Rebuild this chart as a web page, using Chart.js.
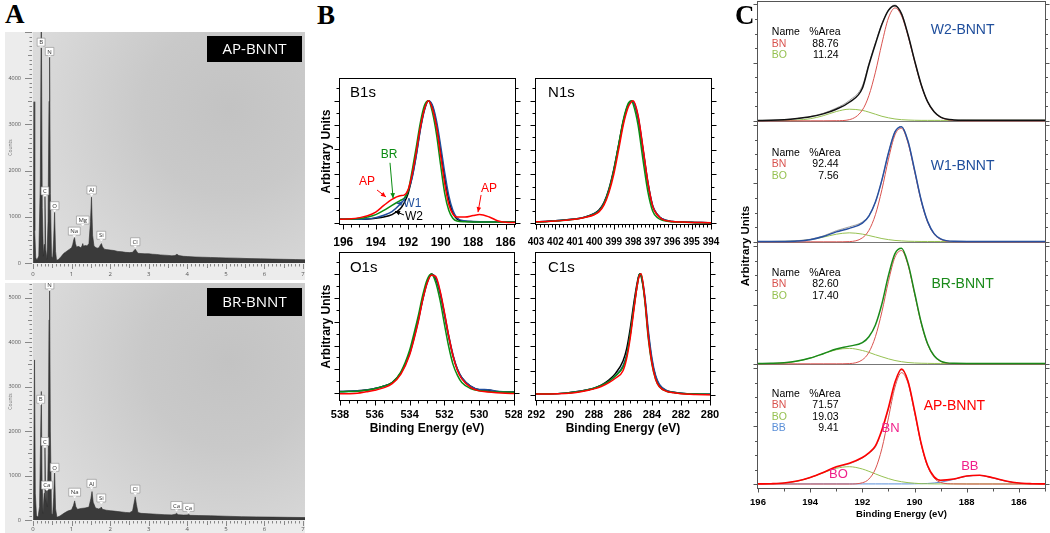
<!DOCTYPE html>
<html>
<head>
<meta charset="utf-8">
<script src="https://cdn.jsdelivr.net/npm/chart.js@4.4.1/dist/chart.umd.min.js"></script>
<style>
html,body{margin:0;padding:0;background:#fff;}
#fig{position:relative;width:1050px;height:533px;overflow:hidden;}
#fig canvas{position:absolute;}
.pl{position:absolute;font-family:"Liberation Serif","DejaVu Serif",serif;font-weight:bold;font-size:27px;line-height:27px;color:#000;}
#cy{position:absolute;left:685px;top:239px;width:120px;height:14px;line-height:14px;text-align:center;font-family:"Liberation Sans",Arial,sans-serif;font-weight:bold;font-size:11.5px;transform:rotate(-90deg);transform-origin:50% 50%;white-space:nowrap;}
</style>
</head>
<body>
<div id="fig">
  <canvas id="edsAP"></canvas>
  <canvas id="edsBR"></canvas>
  <canvas id="b1s"></canvas>
  <canvas id="n1s"></canvas>
  <canvas id="o1s"></canvas>
  <canvas id="c1s"></canvas>
  <canvas id="cW2"></canvas>
  <canvas id="cW1"></canvas>
  <canvas id="cBR"></canvas>
  <canvas id="cAP"></canvas>
  <div class="pl" style="left:5px;top:1px">A</div>
  <div class="pl" style="left:317px;top:2px">B</div>
  <div class="pl" style="left:735px;top:2px">C</div>
  <div id="cy">Arbitrary Units</div>
</div>
<script>
// ---------------- DATA ----------------
// Panel A : EDS spectra (keV, counts)
const edsKeVAP = [0,0.01,0.026,0.045,0.07,0.1,0.15,0.19,0.215,0.24,0.27,0.29,0.31,0.33,0.36,0.39,0.415,0.43,0.45,0.48,0.51,0.535,0.56,0.585,0.61,0.65,0.7,0.75,0.8,0.85,0.9,0.95,1.0,1.03,1.055,1.077,1.1,1.13,1.17,1.2,1.24,1.27,1.29,1.31,1.35,1.4,1.45,1.49,1.516,1.545,1.58,1.62,1.66,1.71,1.74,1.774,1.8,1.85,1.9,2.0,2.1,2.2,2.3,2.4,2.5,2.58,2.62,2.65,2.68,2.72,2.8,2.9,3.0,3.1,3.2,3.3,3.4,3.5,3.6,3.68,3.73,3.78,3.9,4.0,4.2,4.4,4.6,4.8,5.0,5.3,5.6,5.9,6.2,6.5,6.8,7.05];
const edsCountsAP = [0,600,3490,700,120,60,150,1800,5600,1200,150,400,1460,300,80,900,3500,4525,1500,150,100,500,1095,250,60,70,110,160,210,240,270,300,330,400,500,550,420,340,360,350,330,370,420,360,380,370,420,900,1425,600,370,340,320,330,380,420,350,300,290,280,270,250,245,230,225,230,270,300,260,210,205,200,200,190,185,175,170,165,155,160,190,160,145,140,130,125,120,115,110,105,95,90,85,80,75,70];
const edsKeVBR = [0,0.015,0.04,0.06,0.09,0.13,0.17,0.2,0.216,0.235,0.26,0.29,0.31,0.325,0.34,0.352,0.37,0.395,0.415,0.43,0.45,0.48,0.51,0.535,0.56,0.585,0.62,0.7,0.8,0.9,1.0,1.05,1.08,1.11,1.15,1.25,1.35,1.45,1.5,1.53,1.56,1.62,1.7,1.74,1.77,1.8,1.9,2.0,2.1,2.2,2.3,2.4,2.5,2.58,2.62,2.65,2.68,2.72,2.8,3.0,3.2,3.4,3.6,3.69,3.72,3.76,3.9,4.0,4.03,4.07,4.3,4.6,5.0,5.4,5.8,6.2,6.6,7.05];
const edsCountsBR = [0,500,3600,600,100,60,300,2000,2890,900,150,600,1620,600,400,700,300,1500,4500,5300,2000,150,120,500,1130,250,60,90,150,200,230,330,430,300,240,260,270,290,480,640,400,270,250,260,290,240,220,210,200,190,180,170,165,200,380,520,350,170,150,140,130,120,115,130,150,120,110,115,130,105,100,95,85,75,70,65,60,55];
const edsXTicks = [0,1,2,3,4,5,6,7];
const edsYTicksAP = [0,1000,2000,3000,4000];
const edsYTicksBR = [0,1000,2000,3000,4000,5000];
const peakNamesAP = ['B','N','C','O','Na','Mg','Al','Si','Cl'];
const peakKeVAP   = [0.21,0.43,0.31,0.56,1.07,1.29,1.52,1.77,2.65];
const peakTopAP   = [4650,4450,1430,1110,560,800,1450,470,330];
const peakNamesBR = ['N','B','C','Ca','O','Na','Al','Si','Cl','Ca','Ca'];
const peakKeVBR   = [0.43,0.2,0.31,0.36,0.56,1.08,1.52,1.77,2.65,3.72,4.03];
const peakTopBR   = [5150,2580,1630,650,1050,490,690,360,560,190,150];

// Panel B : XPS core levels (normalised intensity)
const eB1s = [196.2,196,195.5,195,194.5,194,193.5,193,192.5,192.25,192,191.75,191.5,191.25,191,190.75,190.5,190.25,190,189.75,189.5,189.25,189,188.5,188,187.6,187,186.5,186,185.4];
const b1sAP = [0.026,0.026,0.03,0.04,0.055,0.085,0.14,0.19,0.22,0.225,0.27,0.4,0.58,0.78,0.93,1.0,0.93,0.78,0.55,0.32,0.15,0.07,0.045,0.045,0.057,0.065,0.045,0.015,0.002,0.0];
const b1sBR = [0.026,0.026,0.027,0.032,0.045,0.065,0.1,0.14,0.18,0.2,0.26,0.43,0.62,0.82,0.96,1.0,0.9,0.72,0.47,0.24,0.1,0.035,0.012,0.006,0.005,0.005,0.005,0.005,0.005,0.005];
const b1sW1 = [0.026,0.026,0.026,0.027,0.03,0.04,0.06,0.09,0.15,0.19,0.26,0.37,0.55,0.76,0.92,1.0,0.96,0.83,0.63,0.41,0.22,0.1,0.04,0.012,0.008,0.007,0.007,0.007,0.007,0.007];
const b1sW2 = [0.026,0.026,0.026,0.026,0.028,0.035,0.045,0.065,0.11,0.16,0.24,0.38,0.56,0.77,0.93,1.0,0.95,0.8,0.59,0.37,0.19,0.08,0.03,0.01,0.007,0.006,0.006,0.006,0.006,0.006];

const eN1s = [403,402.5,402,401.5,401,400.5,400,399.75,399.5,399.25,399,398.75,398.5,398.25,398.1,398,397.75,397.5,397.25,397,396.75,396.5,396,395.5,395,394.5,394];
const n1sW2 = [0.012,0.015,0.02,0.028,0.035,0.05,0.08,0.11,0.17,0.28,0.44,0.64,0.84,0.97,0.995,0.99,0.86,0.6,0.33,0.14,0.07,0.035,0.015,0.01,0.008,0.006,0.005];
const n1sW1 = [0.012,0.015,0.02,0.027,0.035,0.05,0.078,0.105,0.165,0.27,0.43,0.63,0.83,0.965,0.995,0.99,0.87,0.61,0.34,0.145,0.07,0.035,0.015,0.01,0.008,0.006,0.005];
const n1sBR = [0.01,0.013,0.018,0.025,0.033,0.048,0.075,0.1,0.16,0.27,0.43,0.64,0.85,0.98,1.0,0.97,0.8,0.52,0.26,0.1,0.045,0.025,0.012,0.008,0.006,0.005,0.004];
const n1sAP = [0.012,0.014,0.018,0.025,0.033,0.048,0.07,0.095,0.15,0.25,0.4,0.6,0.81,0.95,0.99,1.0,0.88,0.62,0.34,0.14,0.065,0.032,0.014,0.01,0.007,0.006,0.005];

const eO1s = [538,537.5,537,536.5,536,535.5,535,534.5,534,533.75,533.5,533.25,533,532.75,532.5,532.25,532,531.75,531.5,531.25,531,530.5,530,529.5,529,528.5,528];
const o1sW2 = [0.015,0.017,0.02,0.028,0.04,0.06,0.09,0.17,0.34,0.47,0.62,0.79,0.93,1.0,0.96,0.84,0.66,0.47,0.31,0.2,0.13,0.06,0.03,0.027,0.015,0.012,0.01];
const o1sW1 = [0.014,0.016,0.02,0.027,0.04,0.058,0.09,0.17,0.33,0.46,0.61,0.78,0.92,0.995,0.97,0.85,0.67,0.48,0.32,0.2,0.13,0.06,0.032,0.03,0.016,0.012,0.01];
const o1sBR = [0.012,0.014,0.017,0.025,0.037,0.058,0.09,0.18,0.36,0.5,0.65,0.82,0.95,1.0,0.93,0.78,0.58,0.39,0.24,0.15,0.09,0.04,0.02,0.015,0.01,0.01,0.008];
const o1sAP = [-0.005,-0.004,0.0,0.012,0.025,0.045,0.08,0.16,0.32,0.45,0.6,0.78,0.92,0.99,0.98,0.86,0.68,0.48,0.31,0.19,0.12,0.05,0.02,0.01,0.004,0.0,-0.002];

const eC1s = [292,291,290,289,288,287.5,287,286.5,286,285.75,285.5,285.25,285,284.85,284.75,284.5,284.25,284,283.75,283.5,283,282.5,282,281,280];
const c1sW2 = [0.01,0.01,0.015,0.03,0.055,0.08,0.12,0.18,0.28,0.38,0.55,0.76,0.94,1.0,0.98,0.8,0.5,0.28,0.15,0.08,0.035,0.022,0.015,0.008,0.005];
const c1sW1 = [0.01,0.01,0.015,0.03,0.055,0.078,0.11,0.16,0.24,0.33,0.5,0.72,0.92,1.0,0.99,0.82,0.53,0.3,0.16,0.09,0.037,0.023,0.015,0.008,0.005];
const c1sBR = [0.01,0.01,0.015,0.028,0.055,0.078,0.11,0.16,0.23,0.32,0.5,0.72,0.92,1.0,0.99,0.78,0.46,0.25,0.13,0.07,0.03,0.02,0.012,0.007,0.004];
const c1sAP = [0.008,0.008,0.012,0.025,0.05,0.07,0.1,0.14,0.2,0.3,0.47,0.7,0.92,0.99,1.0,0.8,0.48,0.26,0.13,0.07,0.03,0.018,0.01,0.004,0.002];

const ticksB1s = [196,194,192,190,188,186];
const ticksN1s = [403,402,401,400,399,398,397,396,395,394];
const ticksO1s = [538,536,534,532,530,528];
const ticksC1s = [292,290,288,286,284,282,280];

// Panel C : B1s peak fits
const eC = [196,195.5,195,194.5,194,193.5,193,192.5,192,191.75,191.5,191.25,191,190.75,190.5,190.25,190,189.75,189.5,189.25,189,188.5,188,187.5,187,186.5,186,185.5,185];
const w2Data = [0.003,0.005,0.01,0.02,0.035,0.06,0.1,0.16,0.28,0.48,0.66,0.83,0.95,0.99,0.92,0.74,0.52,0.315,0.165,0.078,0.032,0.008,0.005,0.004,0.004,0.004,0.004,0.004,0.004];
const w2Env  = [0.003,0.005,0.01,0.02,0.037,0.065,0.11,0.175,0.3,0.49,0.67,0.835,0.955,0.995,0.925,0.74,0.52,0.315,0.165,0.078,0.032,0.008,0.005,0.004,0.004,0.004,0.004,0.004,0.004];
const w2BN   = [0,0,0,0,0,0,0.001,0.01,0.093,0.217,0.418,0.667,0.884,0.97,0.903,0.729,0.511,0.31,0.163,0.075,0.03,0.003,0,0,0,0,0,0,0];
const w2BO   = [0.003,0.003,0.004,0.007,0.018,0.044,0.08,0.1,0.09,0.075,0.057,0.039,0.026,0.016,0.01,0.007,0.005,0.004,0.004,0.004,0.004,0.004,0.004,0.004,0.004,0.004,0.004,0.004,0.004];
const w1Data = [0.002,0.002,0.003,0.007,0.018,0.045,0.085,0.115,0.16,0.22,0.34,0.53,0.76,0.94,0.985,0.86,0.615,0.36,0.175,0.07,0.025,0.004,0.003,0.003,0.003,0.003,0.003,0.003,0.003];
const w1Env  = [0.002,0.003,0.005,0.01,0.022,0.05,0.095,0.128,0.17,0.225,0.34,0.53,0.76,0.94,0.985,0.86,0.615,0.36,0.175,0.07,0.025,0.004,0.003,0.003,0.003,0.003,0.003,0.003,0.003];
const w1BN   = [0,0,0,0,0,0,0,0.002,0.034,0.098,0.232,0.447,0.707,0.915,0.971,0.845,0.603,0.352,0.169,0.066,0.021,0.001,0,0,0,0,0,0,0];
const w1BO   = [0.003,0.003,0.004,0.008,0.019,0.04,0.065,0.077,0.066,0.054,0.041,0.028,0.019,0.012,0.008,0.005,0.004,0.003,0.003,0.003,0.003,0.003,0.003,0.003,0.003,0.003,0.003,0.003,0.003];
const brData = [0.002,0.004,0.009,0.023,0.049,0.086,0.125,0.15,0.18,0.23,0.33,0.51,0.75,0.935,0.98,0.85,0.605,0.355,0.17,0.068,0.023,0.004,0.003,0.003,0.003,0.003,0.003,0.003,0.003];
const brBN   = [0,0,0,0,0,0,0,0.002,0.034,0.097,0.23,0.442,0.7,0.905,0.961,0.837,0.596,0.348,0.167,0.066,0.021,0.001,0,0,0,0,0,0,0];
const brBO   = [0.002,0.003,0.008,0.022,0.048,0.085,0.119,0.131,0.113,0.097,0.077,0.059,0.042,0.028,0.018,0.011,0.007,0.005,0.004,0.003,0.003,0.003,0.003,0.003,0.003,0.003,0.003,0.003,0.003];
const apData = [0.001,0.003,0.009,0.026,0.057,0.1,0.15,0.18,0.23,0.27,0.33,0.47,0.66,0.88,0.995,0.89,0.635,0.355,0.16,0.063,0.033,0.043,0.07,0.076,0.054,0.026,0.009,0.003,0.001];
const apEnv  = [0.001,0.003,0.009,0.026,0.057,0.1,0.145,0.175,0.225,0.265,0.32,0.46,0.65,0.87,0.985,0.89,0.63,0.352,0.158,0.062,0.032,0.042,0.069,0.075,0.053,0.025,0.008,0.002,0.001];
const apBN   = [0,0,0,0,0,0,0,0,0.011,0.043,0.13,0.308,0.573,0.839,0.964,0.872,0.619,0.346,0.152,0.052,0.014,0.001,0,0,0,0,0,0,0];
const apBO   = [0.001,0.002,0.008,0.024,0.055,0.097,0.136,0.15,0.13,0.11,0.088,0.066,0.047,0.031,0.02,0.012,0.007,0.003,0.002,0.001,0.001,0.001,0.001,0.001,0.001,0.001,0.001,0.001,0.001];
const apBB   = [0.001,0.001,0.001,0.001,0.001,0.001,0.001,0.001,0.001,0.001,0.001,0.001,0.001,0.001,0.001,0.001,0.002,0.003,0.005,0.009,0.016,0.04,0.068,0.074,0.052,0.024,0.007,0.002,0.001];
const ticksC = [196,194,192,190,188,186];
const fitW2 = ['BN','BO'], pctW2 = ['88.76','11.24'];
const fitW1 = ['BN','BO'], pctW1 = ['92.44','7.56'];
const fitBR = ['BN','BO'], pctBR = ['82.60','17.40'];
const fitAP = ['BN','BO','BB'], pctAP = ['71.57','19.03','9.41'];
const sampleNames = ['W2-BNNT','W1-BNNT','BR-BNNT','AP-BNNT'];

// ---------------- HELPERS ----------------
const FAM = '"Liberation Sans", Arial, sans-serif';
Chart.defaults.font.family = FAM;
Chart.defaults.animation = false;
const pts = (xs, ys) => xs.map((x, i) => ({x: x, y: ys[i]}));
const zero = s => { s.paddingLeft = 0; s.paddingRight = 0; s.paddingTop = 0; s.paddingBottom = 0; };
const hp = v => Math.round(v) + 0.5;

function place(id, box, m) {
  const c = document.getElementById(id);
  const w = box[2] - box[0] + m.l + m.r, h = box[3] - box[1] + m.t + m.b;
  c.width = w; c.height = h;
  c.style.left = (box[0] - m.l) + 'px'; c.style.top = (box[1] - m.t) + 'px';
  c.style.width = w + 'px'; c.style.height = h + 'px';
  return c;
}

const notesPlugin = {
  id: 'notes',
  afterDatasetsDraw(chart, args, opts) {
    const items = (opts && opts.items) || [];
    if (!items.length) return;
    const ctx = chart.ctx, xs = chart.scales.x, ys = chart.scales.y;
    ctx.save();
    for (const it of items) {
      if (it.t === 'arrow') {
        const x1 = xs.getPixelForValue(it.x1), y1 = ys.getPixelForValue(it.y1);
        const x2 = xs.getPixelForValue(it.x2), y2 = ys.getPixelForValue(it.y2);
        ctx.strokeStyle = it.color; ctx.fillStyle = it.color; ctx.lineWidth = 1;
        ctx.beginPath(); ctx.moveTo(x1, y1); ctx.lineTo(x2, y2); ctx.stroke();
        const an = Math.atan2(y2 - y1, x2 - x1), L = 5, W = 2.3;
        ctx.beginPath(); ctx.moveTo(x2, y2);
        ctx.lineTo(x2 - L * Math.cos(an) + W * Math.sin(an), y2 - L * Math.sin(an) - W * Math.cos(an));
        ctx.lineTo(x2 - L * Math.cos(an) - W * Math.sin(an), y2 - L * Math.sin(an) + W * Math.cos(an));
        ctx.closePath(); ctx.fill();
      } else {
        const x = xs.getPixelForValue(it.x) + (it.dx || 0), y = ys.getPixelForValue(it.y) + (it.dy || 0);
        ctx.font = it.font; ctx.fillStyle = it.color; ctx.textAlign = it.align || 'left'; ctx.textBaseline = 'middle';
        ctx.fillText(it.text, x, y);
      }
    }
    ctx.restore();
  }
};

const framePlugin = {
  id: 'frame',
  beforeDatasetsDraw(chart, args, o) {
    if (!o || !o.sep) return;
    const ctx = chart.ctx, a = chart.chartArea;
    ctx.save(); ctx.strokeStyle = o.sep; ctx.lineWidth = 1;
    ctx.beginPath(); ctx.moveTo(a.left, hp(a.bottom) - 1); ctx.lineTo(a.right, hp(a.bottom) - 1); ctx.stroke();
    ctx.restore();
  },
  afterDatasetsDraw(chart, args, o) {
    if (!o || !o.sides) return;
    const ctx = chart.ctx, a = chart.chartArea, xs = chart.scales.x, ys = chart.scales.y;
    ctx.save(); ctx.strokeStyle = o.color; ctx.lineWidth = o.width;
    const L = hp(a.left) - 1, R = hp(a.right), T = hp(a.top), B = hp(a.bottom) - 1;
    ctx.beginPath();
    if (o.sides.includes('l')) { ctx.moveTo(L, T - 0.5); ctx.lineTo(L, B + 0.5); }
    if (o.sides.includes('r')) { ctx.moveTo(R, T - 0.5); ctx.lineTo(R, B + 0.5); }
    if (o.sides.includes('t')) { ctx.moveTo(L - 0.5, T); ctx.lineTo(R + 0.5, T); }
    if (o.sides.includes('b')) { ctx.moveTo(L - 0.5, B); ctx.lineTo(R + 0.5, B); }
    if (o.xMinor) {
      const lo = Math.min(xs.min, xs.max), hi = Math.max(xs.min, xs.max);
      for (let n = Math.ceil(lo / o.xMinor - 1e-6); n * o.xMinor <= hi + 1e-6; n++) {
        const v = n * o.xMinor, r = v / o.xMajor, maj = Math.abs(r - Math.round(r)) < 1e-6;
        const px = hp(xs.getPixelForValue(v));
        ctx.moveTo(px, B); ctx.lineTo(px, B + (maj ? o.xMajLen : o.xMinLen));
      }
    }
    if (o.yMinor) {
      for (let n = Math.ceil(ys.min / o.yMinor - 1e-6); n * o.yMinor <= ys.max + 1e-6; n++) {
        const v = n * o.yMinor, r = v / o.yMajor, maj = Math.abs(r - Math.round(r)) < 1e-6;
        const py = hp(ys.getPixelForValue(v)), len = maj ? o.yMajLen : o.yMinLen;
        ctx.moveTo(L, py); ctx.lineTo(L - len, py);
        ctx.moveTo(R, py); ctx.lineTo(R + len, py);
      }
    }
    ctx.stroke(); ctx.restore();
  }
};

const edsPlugin = {
  id: 'eds',
  beforeDraw(chart, args, o) {
    if (!o || !o.on) return;
    const ctx = chart.ctx, a = chart.chartArea;
    ctx.save();
    ctx.fillStyle = '#ececec'; ctx.fillRect(0, 0, chart.width, chart.height);
    const w = a.right - a.left, h = a.bottom - a.top;
    const cx = a.left + 0.72 * w, cy = a.top + 0.33 * h, R = 1.05 * w;
    const g = ctx.createRadialGradient(cx, cy, 0, cx, cy, R);
    g.addColorStop(0, '#c3c3c3'); g.addColorStop(0.3, '#c9c9c9'); g.addColorStop(0.62, '#d7d7d7'); g.addColorStop(1, '#e7e7e7');
    ctx.fillStyle = g; ctx.fillRect(a.left, a.top, w, h);
    ctx.restore();
  },
  afterDatasetsDraw(chart, args, o) {
    if (!o || !o.on) return;
    const ctx = chart.ctx, a = chart.chartArea, xs = chart.scales.x, ys = chart.scales.y;
    ctx.save();
    ctx.strokeStyle = '#6f6f6f'; ctx.lineWidth = 0.8; ctx.beginPath();
    for (let n = 0; n <= 70; n++) {
      const px = hp(xs.getPixelForValue(n / 10));
      const len = n % 10 === 0 ? 5 : (n % 5 === 0 ? 4 : 2.5);
      ctx.moveTo(px, a.bottom + 1); ctx.lineTo(px, a.bottom + 1 + len);
    }
    for (let c = 0; c <= ys.max; c += 100) {
      const py = hp(ys.getPixelForValue(c));
      const len = c % 1000 === 0 ? 7 : (c % 500 === 0 ? 4 : 2.5);
      ctx.moveTo(a.left - 1 - len, py); ctx.lineTo(a.left - 1, py);
    }
    ctx.stroke();
    ctx.font = '6px "Open Sans", sans-serif'; ctx.textAlign = 'center'; ctx.textBaseline = 'middle';
    o.names.forEach((nm, i) => {
      const px = xs.getPixelForValue(o.keV[i]), py = ys.getPixelForValue(o.tops[i]);
      const w = ctx.measureText(nm).width + 4, h = 8, bx = px - w / 2, by = py - 2 - h;
      ctx.fillStyle = '#fff'; ctx.strokeStyle = '#8a8a8a'; ctx.lineWidth = 0.6;
      ctx.beginPath(); ctx.rect(bx, by, w, h); ctx.fill(); ctx.stroke();
      ctx.beginPath(); ctx.moveTo(px - 1.8, py - 2); ctx.lineTo(px, py); ctx.lineTo(px + 1.8, py - 2); ctx.closePath(); ctx.fill();
      ctx.fillStyle = '#333'; ctx.fillText(nm, px, by + h / 2 + 0.5);
    });
    const bw = 95, bh = o.boxH, bx = a.right - 3 - bw, by = a.top + o.boxTop;
    ctx.fillStyle = '#000'; ctx.fillRect(bx, by, bw, bh);
    ctx.fillStyle = '#fff'; ctx.font = '15px "Open Sans", sans-serif';
    ctx.fillText(o.sample, bx + bw / 2, by + bh / 2 + 1);
    ctx.restore();
  }
};
Chart.register(notesPlugin, framePlugin, edsPlugin);

function edsChart(id, box, m, yMax, yTicks, E, C, names, keV, tops, sample, boxTop, boxH, xPad) {
  const c = place(id, box, m);
  return new Chart(c, {
    type: 'line',
    data: { datasets: [{ data: pts(E, C), borderColor: '#2e2e2e', backgroundColor: '#3a3a3a', borderWidth: 0.6, pointRadius: 0, fill: 'origin', tension: 0 }] },
    options: {
      responsive: false, animation: false, events: [],
      layout: { padding: { left: 0, top: m.t, right: m.r, bottom: 0 } },
      plugins: { legend: { display: false }, tooltip: { enabled: false },
        eds: { on: true, names: names, keV: keV, tops: tops, sample: sample, boxTop: boxTop, boxH: boxH } },
      scales: {
        x: { type: 'linear', min: 0, max: 7.05,
          afterBuildTicks: s => { s.ticks = edsXTicks.map(v => ({value: v})); },
          ticks: { font: { size: 6, family: '"Open Sans", sans-serif' }, color: '#555', padding: xPad, maxRotation: 0, autoSkip: false, callback: v => String(v) },
          grid: { display: false, drawTicks: false }, border: { display: false },
          afterFit: s => { zero(s); s.height = m.b; } },
        y: { type: 'linear', min: 0, max: yMax,
          afterBuildTicks: s => { s.ticks = yTicks.map(v => ({value: v})); },
          ticks: { font: { size: 5.5, family: '"Open Sans", sans-serif' }, color: '#555', padding: 12, autoSkip: false, callback: v => String(v) },
          grid: { display: false, drawTicks: false }, border: { display: false },
          title: { display: true, text: 'Counts', font: { size: 5, family: '"Open Sans", sans-serif' }, color: '#777', padding: { top: 3, bottom: 0 } },
          afterFit: s => { zero(s); s.width = m.l; } }
      }
    }
  });
}

// series listed bottom-to-top; Chart.js paints the first dataset on top, so reverse
function xpsChart(id, box, m, xr, yr, energies, series, o) {
  const c = place(id, box, m);
  return new Chart(c, {
    type: 'line',
    data: { datasets: series.slice().reverse().map(s => ({ data: pts(energies, s.v), borderColor: s.c, borderWidth: s.w, pointRadius: 0, fill: false, cubicInterpolationMode: 'monotone' })) },
    options: {
      responsive: false, animation: false, events: [],
      layout: { padding: { left: 0, top: m.t, right: m.r, bottom: 0 } },
      plugins: { legend: { display: false }, tooltip: { enabled: false }, notes: { items: o.notes || [] }, frame: o.frame },
      scales: {
        x: { type: 'linear', reverse: true, min: xr[0], max: xr[1],
          afterBuildTicks: s => { s.ticks = (o.xTicks || []).map(v => ({value: v})); },
          ticks: { display: !!o.xTicks, font: o.xFont, color: '#000', padding: o.xPad || 0, maxRotation: 0, autoSkip: false, callback: v => String(v) },
          grid: { display: false, drawTicks: false }, border: { display: false },
          title: o.xTitle ? { display: true, text: o.xTitle, font: o.xTitleFont, color: '#000', padding: { top: 0, bottom: o.xTitlePad } } : { display: false },
          afterFit: s => { zero(s); s.height = m.b; } },
        y: { type: 'linear', min: yr[0], max: yr[1],
          ticks: { display: false }, grid: { display: false, drawTicks: false }, border: { display: false },
          title: o.yTitle ? { display: true, text: o.yTitle, font: { size: 12, weight: 'bold', family: FAM }, color: '#000', padding: { top: 9, bottom: 0 } } : { display: false },
          afterFit: s => { zero(s); s.width = m.l; } }
      }
    }
  });
}

// ---------------- PANEL A ----------------
edsChart('edsAP', [33, 32, 305, 263], {l: 28, t: 0, r: 0, b: 17}, 5000, edsYTicksAP,
  edsKeVAP, edsCountsAP, peakNamesAP, peakKeVAP, peakTopAP, 'AP-BNNT', 4, 26, 8);
edsChart('edsBR', [33, 283, 305, 520], {l: 28, t: 0, r: 0, b: 13}, 5330, edsYTicksBR,
  edsKeVBR, edsCountsBR, peakNamesBR, peakKeVBR, peakTopBR, 'BR-BNNT', 5, 28, 6);

// ---------------- PANEL B ----------------
const colW2 = '#000000', colW1 = '#1f4e9c', colBR = '#0b8c12', colAP = '#ff0000';
const TF12 = { size: 12, weight: 'bold', family: FAM };
const TF11 = { size: 11, weight: 'bold', family: FAM };
const TF10 = { size: 10, weight: 'bold', family: FAM };
const nf = s => s + 'px ' + FAM;
const frameB = (xMinor, xMajor) => ({ sides: 'lrtb', color: '#000', width: 1, xMinor: xMinor, xMajor: xMajor, xMajLen: 5, xMinLen: 3, yMinor: 0.1, yMajor: 0.2, yMajLen: 5, yMinLen: 3 });
const seriesB = (w2, w1, br, ap) => [
  { v: w2, c: colW2, w: 1.5 }, { v: w1, c: colW1, w: 1.5 }, { v: br, c: colBR, w: 1.5 }, { v: ap, c: colAP, w: 1.5 }];

xpsChart('b1s', [340, 78, 515, 225], {l: 30, t: 8, r: 8, b: 25}, [185.42, 196.2], [-0.0205, 1.186], eB1s,
  seriesB(b1sW2, b1sW1, b1sBR, b1sAP),
  { xTicks: ticksB1s, xFont: TF12, xPad: 10, yTitle: 'Arbitrary Units', frame: frameB(0.5, 2),
    notes: [
      { x: 195.58, y: 1.063, text: 'B1s', color: '#000', font: nf(15) },
      { x: 193.18, y: 0.554, text: 'BR', color: colBR, font: nf(12), align: 'center' },
      { t: 'arrow', x1: 193.12, y1: 0.49, x2: 192.93, y2: 0.2, color: colBR },
      { x: 194.54, y: 0.333, text: 'AP', color: colAP, font: nf(12), align: 'center' },
      { t: 'arrow', x1: 193.92, y1: 0.267, x2: 193.37, y2: 0.21, color: colAP },
      { x: 192.3, y: 0.152, text: 'W1', color: colW1, font: nf(12) },
      { t: 'arrow', x1: 192.36, y1: 0.155, x2: 192.7, y2: 0.158, color: colW1 },
      { x: 192.2, y: 0.05, text: 'W2', color: '#000', font: nf(12) },
      { t: 'arrow', x1: 192.26, y1: 0.062, x2: 192.81, y2: 0.092, color: '#000' },
      { x: 187.02, y: 0.275, text: 'AP', color: colAP, font: nf(12), align: 'center' },
      { t: 'arrow', x1: 187.51, y1: 0.226, x2: 187.7, y2: 0.085, color: colAP }
    ] });

xpsChart('n1s', [536, 78, 711, 225], {l: 8, t: 8, r: 10, b: 25}, [394, 403], [-0.014, 1.185], eN1s,
  seriesB(n1sW2, n1sW1, n1sBR, n1sAP),
  { xTicks: ticksN1s, xFont: TF10, xPad: 11, frame: frameB(0.2, 1),
    notes: [{ x: 402.38, y: 1.063, text: 'N1s', color: '#000', font: nf(15) }] });

xpsChart('o1s', [340, 252, 514, 401], {l: 30, t: 0, r: 8, b: 40}, [528, 538], [-0.065, 1.184], eO1s,
  seriesB(o1sW2, o1sW1, o1sBR, o1sAP),
  { xTicks: ticksO1s, xFont: TF11, xPad: 7, xTitle: 'Binding Energy (eV)', xTitleFont: TF12, xTitlePad: 5,
    yTitle: 'Arbitrary Units', frame: frameB(0.5, 2),
    notes: [{ x: 537.43, y: 1.05, text: 'O1s', color: '#000', font: nf(15) }] });

xpsChart('c1s', [536, 252, 710, 401], {l: 8, t: 0, r: 12, b: 40}, [280, 292], [-0.05, 1.18], eC1s,
  seriesB(c1sW2, c1sW1, c1sBR, c1sAP),
  { xTicks: ticksC1s, xFont: TF11, xPad: 7, xTitle: 'Binding Energy (eV)', xTitleFont: TF12, xTitlePad: 5,
    frame: frameB(0.5, 2),
    notes: [{ x: 291.17, y: 1.05, text: 'C1s', color: '#000', font: nf(15) }] });

// ---------------- PANEL C ----------------
const colBN = '#d9534f', colBO = '#96c152', colBB = '#5a8fd8', colEnv = '#a0a0a0', colSample = '#1f4e9c', colPink = '#f0208a';
const compColor = n => n === 'BN' ? colBN : (n === 'BO' ? colBO : colBB);
const LF = nf(10.5), SF = nf(14);
function legendItems(names, pcts, vName, title, tColor, tE, tV) {
  const items = [
    { x: 195.47, y: vName, text: 'Name', color: '#000', font: LF },
    { x: 194.04, y: vName, text: '%Area', color: '#000', font: LF }];
  names.forEach((n, i) => {
    items.push({ x: 195.47, y: vName, dy: 11.5 * (i + 1), text: n, color: compColor(n), font: LF });
    items.push({ x: 192.91, y: vName, dy: 11.5 * (i + 1), text: pcts[i], color: '#000', font: LF, align: 'right' });
  });
  items.push({ x: tE, y: tV, text: title, color: tColor, font: SF });
  return items;
}
const frameC = (sides, sep, withX) => ({ sides: sides, sep: sep, color: '#555', width: 1,
  xMinor: withX ? 1 : 0, xMajor: 2, xMajLen: 4, xMinLen: 3,
  yMinor: 0.125, yMajor: 0.5, yMajLen: 4, yMinLen: 2.5 });

xpsChart('cW2', [758, 1, 1045, 122], {l: 6, t: 1, r: 5, b: 0}, [185, 196], [-0.01, 1.03], eC,
  [{ v: w2BO, c: colBO, w: 1 }, { v: w2BN, c: colBN, w: 1 }, { v: w2Env, c: colEnv, w: 1 }, { v: w2Data, c: '#111', w: 1.5 }],
  { frame: frameC('ltr', '#777', false), notes: legendItems(fitW2, pctW2, 0.76, sampleNames[0], colSample, 189.38, 0.78) });

xpsChart('cW1', [758, 122, 1045, 243], {l: 6, t: 0, r: 5, b: 0}, [185, 196], [-0.01, 1.025], eC,
  [{ v: w1BO, c: colBO, w: 1 }, { v: w1BN, c: colBN, w: 1 }, { v: w1Env, c: colEnv, w: 1 }, { v: w1Data, c: '#2850a0', w: 1.5 }],
  { frame: frameC('lr', '#777', false), notes: legendItems(fitW1, pctW1, 0.76, sampleNames[1], colSample, 189.38, 0.65) });

xpsChart('cBR', [758, 243, 1045, 365], {l: 6, t: 0, r: 5, b: 0}, [185, 196], [-0.01, 1.025], eC,
  [{ v: brBO, c: colBO, w: 1 }, { v: brBN, c: colBN, w: 1 }, { v: brData, c: '#1a8a1a', w: 1.5 }],
  { frame: frameC('lr', '#777', false), notes: legendItems(fitBR, pctBR, 0.77, sampleNames[2], '#1a8a1a', 189.35, 0.68) });

const apNotes = legendItems(fitAP, pctAP, 0.78, sampleNames[3], '#ff0000', 189.65, 0.675).concat([
  { x: 190.92, y: 0.485, text: 'BN', color: colPink, font: nf(13), align: 'center' },
  { x: 192.92, y: 0.08, text: 'BO', color: colPink, font: nf(13), align: 'center' },
  { x: 187.88, y: 0.15, text: 'BB', color: colPink, font: nf(13), align: 'center' }]);
xpsChart('cAP', [758, 365, 1045, 489], {l: 14, t: 0, r: 5, b: 34}, [185, 196], [-0.043, 1.03], eC,
  [{ v: apBB, c: colBB, w: 1 }, { v: apBO, c: colBO, w: 1 }, { v: apBN, c: colBN, w: 1 }, { v: apEnv, c: colEnv, w: 1 }, { v: apData, c: '#ff0000', w: 1.6 }],
  { xTicks: ticksC, xFont: { size: 9.5, weight: 'bold', family: FAM }, xPad: 8,
    xTitle: 'Binding Energy (eV)', xTitleFont: { size: 9.5, weight: 'bold', family: FAM }, xTitlePad: 3,
    frame: frameC('lrb', null, true), notes: apNotes });
</script>
</body>
</html>
